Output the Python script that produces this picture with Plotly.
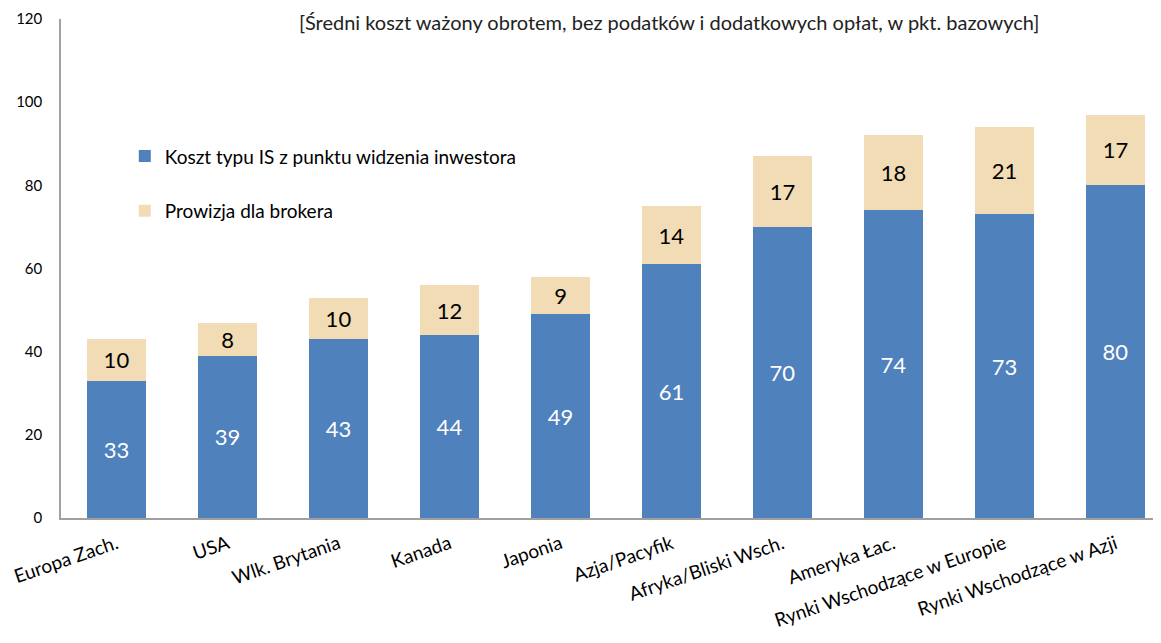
import plotly.graph_objects as go

categories = ["Europa Zach.", "USA", "Wlk. Brytania", "Kanada", "Japonia", "Azja/Pacyfik",
              "Afryka/Bliski Wsch.", "Ameryka Łac.", "Rynki Wschodzące w Europie",
              "Rynki Wschodzące w Azji"]
koszt_is = [33, 39, 43, 44, 49, 61, 70, 74, 73, 80]
prowizja = [10, 8, 10, 12, 9, 14, 17, 18, 21, 17]
y_ticks = [0, 20, 40, 60, 80, 100, 120]
title_text = "[Średni koszt ważony obrotem, bez podatków i dodatkowych opłat, w pkt. bazowych]"

FONT = "Lato, 'Open Sans', sans-serif"

fig = go.Figure()
fig.add_trace(go.Bar(
    x=categories, y=koszt_is, name="Koszt typu IS z punktu widzenia inwestora",
    marker=dict(color="#4F81BD", line=dict(width=0)),
    text=[str(v) for v in koszt_is], textposition="inside", insidetextanchor="middle",
    textfont=dict(color="white", size=22, family=FONT), constraintext="none",
    legendgroup="a",
))
fig.add_trace(go.Bar(
    x=categories, y=prowizja, name="Prowizja dla brokera",
    marker=dict(color="#F1DCB5", line=dict(width=0)),
    text=[str(v) for v in prowizja], textposition="inside", insidetextanchor="middle",
    textfont=dict(color="black", size=22, family=FONT), constraintext="none",
    legendgroup="b",
))

fig.update_layout(
    width=1153, height=635,
    barmode="stack", bargap=0.46,
    plot_bgcolor="white", paper_bgcolor="white",
    margin=dict(l=53, r=0, t=11, b=125),
    font=dict(family=FONT, size=14, color="black"),
    showlegend=True,
    legend=dict(
        x=0.058, y=0.763, xanchor="left", yanchor="top",
        traceorder="grouped", tracegroupgap=27,
        font=dict(size=19, family=FONT, color="black"),
        bgcolor="rgba(0,0,0,0)", itemwidth=30,
    ),
    xaxis=dict(
        range=[-0.5, 9.41], showline=True, linecolor="#A0A0A0", linewidth=1.5,
        ticks="", tickangle=-19, tickfont=dict(size=19, family=FONT),
        showgrid=False, zeroline=False, automargin=False, ticklabelstandoff=6,
    ),
    yaxis=dict(
        range=[0, 120], tickvals=y_ticks, showline=True, linecolor="#A0A0A0", linewidth=1.5,
        ticks="", showgrid=False, zeroline=False, tickfont=dict(size=15, family=FONT),
        ticklabelstandoff=14, automargin=False,
    ),
)

fig.add_annotation(
    text=title_text, xref="paper", yref="paper", x=0.553, y=1.022,
    xanchor="center", yanchor="top", showarrow=False,
    font=dict(size=20, family=FONT, color="#222222"),
)

fig.write_html("out.html")
